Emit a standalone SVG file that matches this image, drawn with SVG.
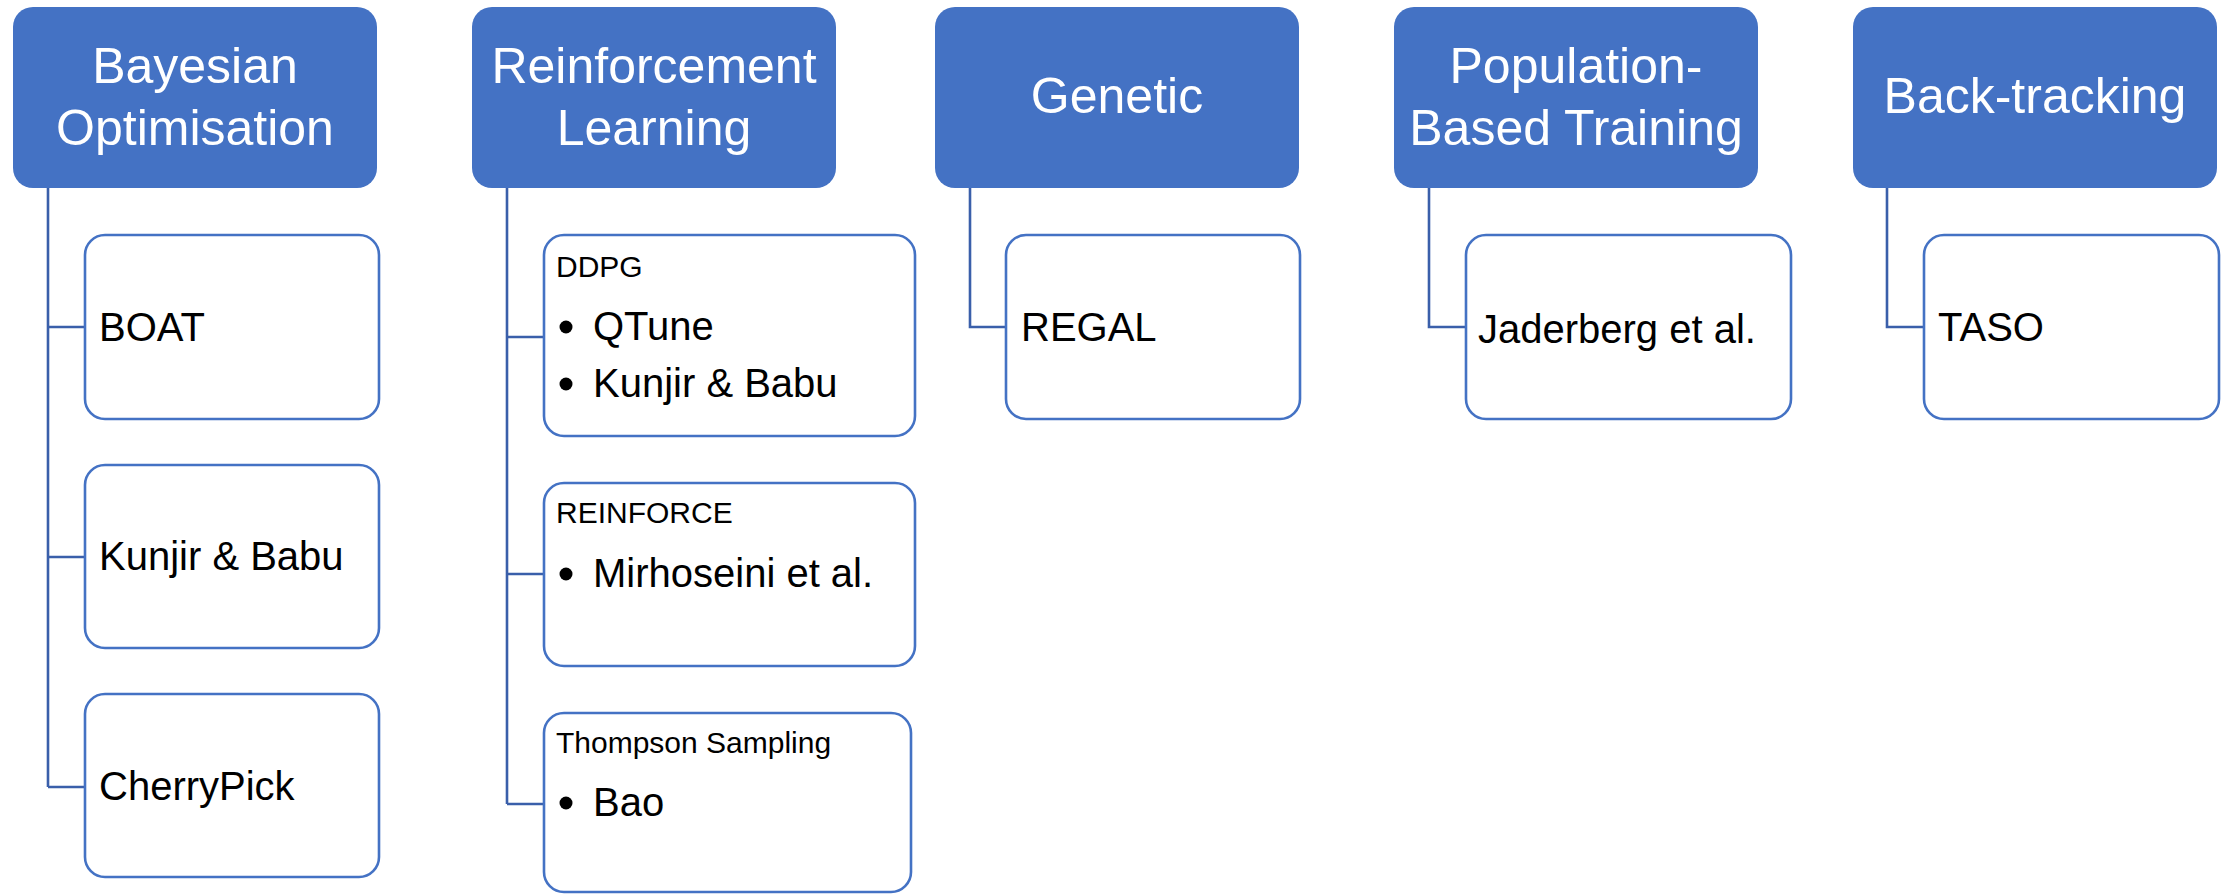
<svg xmlns="http://www.w3.org/2000/svg" width="2231" height="894" viewBox="0 0 2231 894">
  <style>
    .head { fill: #4472C4; }
    .headtxt { font-family: "Liberation Sans", Arial, sans-serif; font-size: 50px; fill: #FFFFFF; text-anchor: middle; }
    .leaf { fill: #FFFFFF; stroke: #4472C4; stroke-width: 2.6; }
    .leaftxt { font-family: "Liberation Sans", Arial, sans-serif; font-size: 40px; fill: #000000; }
    .subtxt { font-family: "Liberation Sans", Arial, sans-serif; font-size: 30px; fill: #000000; }
    .bullet { fill: #000000; }
    .conn { fill: none; stroke: #3A5FAA; stroke-width: 2.6; }
  </style>

  <!-- tree connectors -->
  <g id="connectors">
    <path class="conn" d="M48 188 V787 M48 327 H85 M48 557 H85 M48 787 H85"/>
    <path class="conn" d="M507 188 V804 M507 337 H544 M507 574 H544 M507 804 H544"/>
    <path class="conn" d="M970 188 V327 H1006"/>
    <path class="conn" d="M1429 188 V327 H1466"/>
    <path class="conn" d="M1887 188 V327 H1924"/>
  </g>

  <!-- Bayesian Optimisation -->
  <g id="bayesian">
    <rect class="head" x="13" y="7" width="364" height="181" rx="20"/>
    <text class="headtxt" x="195" y="83">Bayesian</text>
    <text class="headtxt" x="195" y="145">Optimisation</text>
  </g>
  <g id="boat">
    <rect class="leaf" x="85" y="235" width="294" height="184" rx="20"/>
    <text class="leaftxt" x="99" y="341">BOAT</text>
  </g>
  <g id="kunjir-bo">
    <rect class="leaf" x="85" y="465" width="294" height="183" rx="20"/>
    <text class="leaftxt" x="99" y="570">Kunjir &amp; Babu</text>
  </g>
  <g id="cherrypick">
    <rect class="leaf" x="85" y="694" width="294" height="183" rx="20"/>
    <text class="leaftxt" x="99" y="800">CherryPick</text>
  </g>

  <!-- Reinforcement Learning -->
  <g id="rl">
    <rect class="head" x="472" y="7" width="364" height="181" rx="20"/>
    <text class="headtxt" x="654" y="83">Reinforcement</text>
    <text class="headtxt" x="654" y="145">Learning</text>
  </g>
  <g id="ddpg">
    <rect class="leaf" x="544" y="235" width="371" height="201" rx="20"/>
    <text class="subtxt" x="556" y="277">DDPG</text>
    <circle class="bullet" cx="566" cy="327" r="6.5"/>
    <text class="leaftxt" x="593" y="340">QTune</text>
    <circle class="bullet" cx="566" cy="384" r="6.5"/>
    <text class="leaftxt" x="593" y="397">Kunjir &amp; Babu</text>
  </g>
  <g id="reinforce">
    <rect class="leaf" x="544" y="483" width="371" height="183" rx="20"/>
    <text class="subtxt" x="556" y="523">REINFORCE</text>
    <circle class="bullet" cx="566" cy="574" r="6.5"/>
    <text class="leaftxt" x="593" y="587">Mirhoseini et al.</text>
  </g>
  <g id="thompson">
    <rect class="leaf" x="544" y="713" width="367" height="179" rx="20"/>
    <text class="subtxt" x="556" y="753">Thompson Sampling</text>
    <circle class="bullet" cx="566" cy="803" r="6.5"/>
    <text class="leaftxt" x="593" y="816">Bao</text>
  </g>

  <!-- Genetic -->
  <g id="genetic">
    <rect class="head" x="935" y="7" width="364" height="181" rx="20"/>
    <text class="headtxt" x="1117" y="113">Genetic</text>
  </g>
  <g id="regal">
    <rect class="leaf" x="1006" y="235" width="294" height="184" rx="20"/>
    <text class="leaftxt" x="1021" y="341">REGAL</text>
  </g>

  <!-- Population-Based Training -->
  <g id="pbt">
    <rect class="head" x="1394" y="7" width="364" height="181" rx="20"/>
    <text class="headtxt" x="1576" y="83">Population-</text>
    <text class="headtxt" x="1576" y="145">Based Training</text>
  </g>
  <g id="jaderberg">
    <rect class="leaf" x="1466" y="235" width="325" height="184" rx="20"/>
    <text class="leaftxt" x="1478" y="343">Jaderberg et al.</text>
  </g>

  <!-- Back-tracking -->
  <g id="backtracking">
    <rect class="head" x="1853" y="7" width="364" height="181" rx="20"/>
    <text class="headtxt" x="2035" y="113">Back-tracking</text>
  </g>
  <g id="taso">
    <rect class="leaf" x="1924" y="235" width="295" height="184" rx="20"/>
    <text class="leaftxt" x="1938" y="341">TASO</text>
  </g>
</svg>
